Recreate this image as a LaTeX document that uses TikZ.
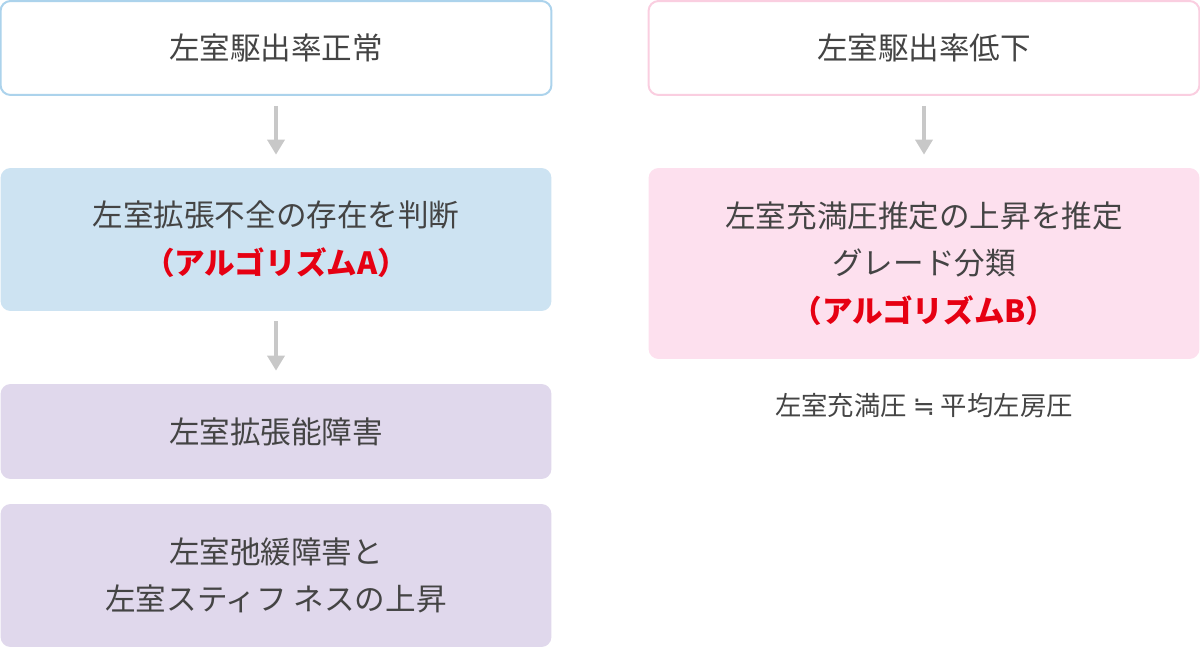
\documentclass[tikz,border=0pt]{standalone}
\usepackage{fontspec}
\usepackage{xcolor}
\newfontfamily\cjk{Noto Sans CJK JP}
\newfontfamily\symb{DejaVu Sans}
\usepackage{tikz}
\usetikzlibrary{%
  arrows.meta,%
  positioning,%
  scopes}
\definecolor{txtgray}{RGB}{68,68,68}
\definecolor{bleubord}{RGB}{172,211,236}
\definecolor{bleufond}{RGB}{205,227,242}
\definecolor{roseborde}{RGB}{250,206,224}
\definecolor{rosefond}{RGB}{253,224,238}
\definecolor{lilas}{RGB}{224,216,236}
\definecolor{algrouge}{RGB}{230,0,18}
\definecolor{flechegris}{RGB}{200,200,200}
\tikzset{
  boite/.style={rectangle,rounded corners=0.2cm,minimum width=11.02cm,inner sep=0pt,
    align=center,text=txtgray,font={\cjk\fontsize{17.4pt}{27.2pt}\selectfont}},
  fleche/.style={-{Triangle[width=0.34cm,length=0.3cm]},draw=flechegris,line width=0.07cm,
    shorten <=0.2cm,shorten >=0.26cm}
}
\begin{document}
\begin{tikzpicture}[x=0.02cm,y=-0.02cm]
\useasboundingbox (0,0) rectangle (1200,648);
% description et nommage des noeuds
\node (normal) at (276,48) [boite,draw=bleubord,line width=0.04cm,fill=white,minimum height=1.88cm] {左室駆出率正常};
\node (algA) at (276,239.5) [boite,fill=bleufond,minimum height=2.86cm] {左室拡張不全の存在を判断\\\textcolor{algrouge}{\bfseries （アルゴリズムA）}};
\node (dilat) at (276,431.5) [boite,fill=lilas,minimum height=1.9cm] {左室拡張能障害};
\node (relax) at (276,575.5) [boite,fill=lilas,minimum height=2.86cm] {左室弛緩障害と\\左室スティフ ネスの上昇};
\node (bas) at (924,48) [boite,draw=roseborde,line width=0.04cm,fill=white,minimum height=1.88cm] {左室駆出率低下};
\node (algB) at (924,263.5) [boite,fill=rosefond,minimum height=3.82cm] {左室充満圧推定の上昇を推定\\グレード分類\\\textcolor{algrouge}{\bfseries （アルゴリズムB）}};
\node (note) [below=0.56cm of algB,text=txtgray,font={\cjk\fontsize{15pt}{18pt}\selectfont}] {左室充満圧 {\symb ≒} 平均左房圧};
\draw[fleche] (normal) -- (algA);
\draw[fleche] (algA) -- (dilat);
\draw[fleche] (bas) -- (algB);
\end{tikzpicture}
\end{document}
